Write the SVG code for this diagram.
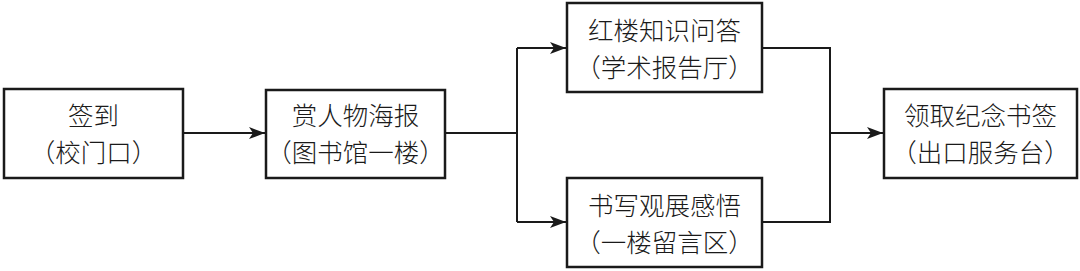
<svg xmlns="http://www.w3.org/2000/svg" width="1080" height="271" viewBox="0 0 1080 271">
<style>
.box{fill:#fff;stroke:#1a1a1a;stroke-width:2.5}
.t{font-family:"Noto Sans CJK SC","Liberation Serif",sans-serif;font-size:25.5px;font-weight:300;fill:#1a1a1a;text-anchor:middle}
.c{fill:none;stroke:#1a1a1a;stroke-width:2}
</style>
<defs>
<marker id="ah" viewBox="0 0 16 12" refX="16" refY="6" markerWidth="16" markerHeight="12" markerUnits="userSpaceOnUse" orient="auto">
<path d="M0,0 L16,6 L0,12 L4,6 Z" fill="#1a1a1a"/>
</marker>
</defs>
<g id="connectors">
<path class="c" d="M183,133 H265" marker-end="url(#ah)"/>
<path class="c" d="M445,133 H517"/>
<path class="c" d="M517,48 V222"/>
<path class="c" d="M517,48 H566" marker-end="url(#ah)"/>
<path class="c" d="M517,222 H566" marker-end="url(#ah)"/>
<path class="c" d="M762,48 H830 V222 H762"/>
<path class="c" d="M830,133 H883" marker-end="url(#ah)"/>
</g>
<g id="n1">
<rect class="box" x="4" y="89" width="179" height="89"/>
<text class="t" x="93.5" y="125">签到</text>
<text class="t" x="93.5" y="162">（校门口）</text>
</g>
<g id="n2">
<rect class="box" x="266" y="90" width="179" height="88"/>
<text class="t" x="355.5" y="125">赏人物海报</text>
<text class="t" x="355.5" y="162">（图书馆一楼）</text>
</g>
<g id="n3">
<rect class="box" x="567" y="3" width="195" height="89"/>
<text class="t" x="664.5" y="40">红楼知识问答</text>
<text class="t" x="664.5" y="77">（学术报告厅）</text>
</g>
<g id="n4">
<rect class="box" x="567" y="178" width="195" height="89"/>
<text class="t" x="664.5" y="215">书写观展感悟</text>
<text class="t" x="664.5" y="252">（一楼留言区）</text>
</g>
<g id="n5">
<rect class="box" x="884" y="89" width="193" height="89"/>
<text class="t" x="980.5" y="125">领取纪念书签</text>
<text class="t" x="980.5" y="162">（出口服务台）</text>
</g>
</svg>
